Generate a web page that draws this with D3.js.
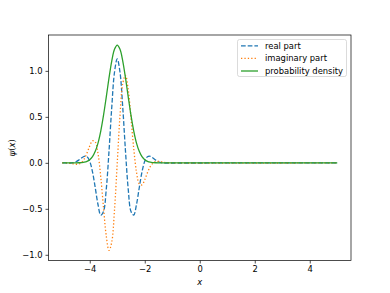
<!DOCTYPE html>

<head>
  <meta charset="utf-8">
  <script src="https://d3js.org/d3.v7.min.js"></script>
  <style>
    body {
      margin: 0;
      background: #fff;
    }

    svg {
      display: block;
      font-family: "DejaVu Sans", sans-serif;
    }
  </style>
</head>

<body>
  <svg width="390" height="293"></svg>
  <script>
    var width = 390;
    var height = 293;
    var margin = { top: 35, bottom: 32.5, left: 48.5, right: 39 };

    // sample positions along x
    var xs = [-5, -4.8, -4.7, -4.6, -4.5, -4.4, -4.3, -4.2, -4.1, -4.0, -3.9, -3.8, -3.7, -3.6, -3.5, -3.4, -3.3, -3.2, -3.1,
      -3.0, -2.9, -2.8, -2.7, -2.6, -2.5, -2.4, -2.3, -2.2, -2.1, -2.0, -1.9, -1.8, -1.7, -1.6, -1.5, -1.4, -1.3, -1.2, 5];

    // real part
    var realPart = [0, -0.002, -0.002, 0.002, 0.012, 0.029, 0.052, 0.071, 0.067, 0.016, -0.099, -0.271, -0.453, -0.568, -0.529, -0.289, 0.125, 0.603, 0.985,
      1.131, 0.985, 0.603, 0.125, -0.289, -0.529, -0.568, -0.453, -0.271, -0.099, 0.016, 0.067, 0.071, 0.052, 0.029, 0.012, 0.002, -0.002, -0.002, 0];

    // imaginary part
    var imagPart = [0, -0.002, -0.006, -0.011, -0.015, -0.014, 0.002, 0.042, 0.106, 0.183, 0.240, 0.227, 0.101, -0.152, -0.485, -0.794, -0.952, -0.862, -0.513,
      0, 0.513, 0.862, 0.952, 0.794, 0.485, 0.152, -0.101, -0.227, -0.240, -0.183, -0.106, -0.042, -0.002, 0.014, 0.015, 0.011, 0.006, 0.002, 0];

    // probability density
    var density = [0, 0, 0, 0, 0, 0.001, 0.003, 0.007, 0.016, 0.034, 0.067, 0.125, 0.215, 0.346, 0.516, 0.715, 0.923, 1.107, 1.234,
      1.280, 1.234, 1.107, 0.923, 0.715, 0.516, 0.346, 0.215, 0.125, 0.067, 0.034, 0.016, 0.007, 0.003, 0.001, 0, 0, 0, 0, 0];

    var xTicks = [-4, -2, 0, 2, 4];
    var yTicks = [-1.0, -0.5, 0.0, 0.5, 1.0];
    var seriesNames = ['real part', 'imaginary part', 'probability density'];
    var seriesColors = ['#1f77b4', '#ff7f0e', '#2ca02c'];
    var seriesDash = ['4.7,2', '1.3,2.1', null];

    var svg = d3.select('svg');

    var xScale = d3.scaleLinear()
      .domain([-5.5, 5.5])
      .range([margin.left, width - margin.right]);

    var yScale = d3.scaleLinear()
      .domain([-1.062, 1.39])
      .range([height - margin.bottom, margin.top]);

    var fmt = function (d) { return d3.format('.1f')(d).replace('-', '\u2212'); };

    var xAxis = d3.axisBottom(xScale)
      .tickValues(xTicks)
      .tickSize(3)
      .tickPadding(3)
      .tickFormat(function (d) { return String(d).replace('-', '\u2212'); });

    var yAxis = d3.axisLeft(yScale)
      .tickValues(yTicks)
      .tickSize(3)
      .tickPadding(3)
      .tickFormat(fmt);

    var gx = svg.append('g')
      .attr('transform', 'translate(' + [0, height - margin.bottom] + ')')
      .call(xAxis);
    var gy = svg.append('g')
      .attr('transform', 'translate(' + [margin.left, 0] + ')')
      .call(yAxis);

    [gx, gy].forEach(function (g) {
      g.select('.domain').remove();
      g.selectAll('.tick line').attr('stroke', '#000').attr('stroke-width', 0.7);
      g.selectAll('.tick text').attr('font-size', 8.4).attr('fill', '#000')
        .attr('font-family', '"DejaVu Sans", sans-serif');
    });

    // lines
    var series = [realPart, imagPart, density];
    var line = d3.line()
      .x(function (d, i) { return xScale(xs[i]); })
      .y(function (d) { return yScale(d); })
      .curve(d3.curveCatmullRom.alpha(0.5));

    svg.append('clipPath').attr('id', 'plotclip')
      .append('rect')
      .attr('x', margin.left).attr('y', margin.top)
      .attr('width', width - margin.left - margin.right)
      .attr('height', height - margin.top - margin.bottom);

    series.forEach(function (s, i) {
      svg.append('path')
        .datum(s)
        .attr('clip-path', 'url(#plotclip)')
        .attr('d', line)
        .attr('fill', 'none')
        .attr('stroke', seriesColors[i])
        .attr('stroke-width', 1.3)
        .attr('stroke-dasharray', seriesDash[i]);
    });

    // frame
    svg.append('rect')
      .attr('x', margin.left)
      .attr('y', margin.top)
      .attr('width', width - margin.left - margin.right)
      .attr('height', height - margin.top - margin.bottom)
      .attr('fill', 'none')
      .attr('stroke', '#000')
      .attr('stroke-width', 0.7);

    // axis labels
    svg.append('text')
      .attr('x', xScale(0))
      .attr('y', 285)
      .attr('text-anchor', 'middle')
      .attr('font-size', 8.4)
      .attr('font-style', 'italic')
      .text('x');

    var ylab = svg.append('text')
      .attr('transform', 'translate(15,' + (margin.top + height - margin.bottom) / 2 + ') rotate(-90)')
      .attr('text-anchor', 'middle')
      .attr('font-size', 8.4);
    ylab.append('tspan').attr('font-style', 'italic').text('\u03c8');
    ylab.append('tspan').text('(');
    ylab.append('tspan').attr('font-style', 'italic').text('x');
    ylab.append('tspan').text(')');

    // legend
    var legend = svg.append('g').attr('transform', 'translate(237.5,39.5)');
    legend.append('rect')
      .attr('width', 109)
      .attr('height', 37)
      .attr('rx', 2)
      .attr('fill', '#fff')
      .attr('fill-opacity', 0.8)
      .attr('stroke', '#ccc')
      .attr('stroke-width', 0.7);

    seriesNames.forEach(function (name, i) {
      var row = legend.append('g').attr('transform', 'translate(0,' + (6.3 + i * 12.6) + ')');
      row.append('line')
        .attr('x1', 3.5).attr('x2', 20.5)
        .attr('stroke', seriesColors[i])
        .attr('stroke-width', 1.3)
        .attr('stroke-dasharray', seriesDash[i]);
      row.append('text')
        .attr('x', 27.5)
        .attr('dy', '0.32em')
        .attr('font-size', 8.4)
        .text(name);
    });
  </script>
</body>
